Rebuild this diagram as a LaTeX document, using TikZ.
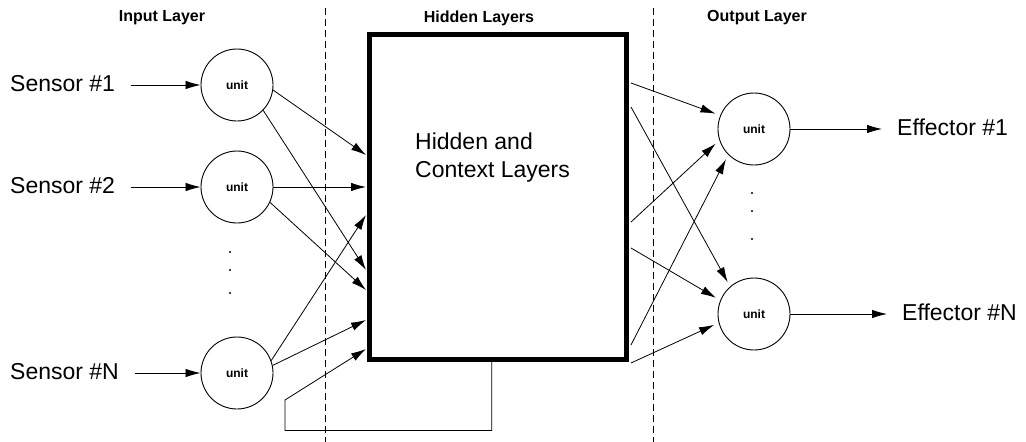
\documentclass[tikz,border=0pt]{standalone}
\usepackage{fontspec}
\setmainfont{Liberation Sans}
\usetikzlibrary{arrows.meta,calc}

\begin{document}
\begin{tikzpicture}[x=1pt,y=-1pt,
        conn/.style={line width=0.8pt, -{Latex[length=15pt,width=8.5pt]}},
        unit/.style={draw, circle, line width=0.9pt, minimum size=72pt, inner sep=0pt, font=\fontsize{12}{14}\selectfont\bfseries},
        lbl/.style={inner sep=0pt, font=\fontsize{23}{28}\selectfont},
        hdr/.style={inner sep=0pt, font=\fontsize{16}{19}\selectfont\bfseries},
        sep/.style={line width=0.8pt, dash pattern=on 7pt off 4pt}]
        \useasboundingbox (0,0) rectangle (1026,442);

        % Layer separators
        \draw[sep] (325,8) -- (325,442);
        \draw[sep] (653,8) -- (653,442);

        % Headings
        \node[hdr] (hin) at (162,18) {Input Layer};
        \node[hdr] (hhid) at (479,18) {Hidden Layers};
        \node[hdr] (hout) at (757,18) {Output Layer};

        % Hidden block
        \node[draw, line width=5pt, minimum width=256.5pt, minimum height=324.5pt] (hid) at (497.75,196.75) {};
        \node[lbl, align=left, anchor=west] (hidtxt) at (415,158) {Hidden and\\Context Layers};

        % Ends on the block sides
        \foreach \y [count=\i] in {155,187,215,270,290,320,349}
            \coordinate (in\i) at (366,\y);
        \foreach \y [count=\i] in {83,107,222,248,345,363}
            \coordinate (out\i) at (631,\y);

        % Input units
        \node[unit] (u1) at (237,85) {unit};
        \node[unit] (u2) at (237,187) {unit};
        \node[unit] (uN) at (237,373) {unit};
        \node[lbl, anchor=west] (s1) at (10,84) {Sensor \#1};
        \node[lbl, anchor=west] (s2) at (10,186) {Sensor \#2};
        \node[lbl, anchor=west] (sN) at (10,372) {Sensor \#N};
        \foreach \s/\u in {s1/u1, s2/u2, sN/uN}
            \draw[conn, shorten <=16pt] (\s.east |- \u.west) -- (\u.west);
        \foreach \y in {252,270,293}
            \fill (230,\y) circle (1.1pt);

        % Into the block
        \draw[conn] (u1.-8) -- (in1);
        \draw[conn] (u1.-44) -- (in4);
        \draw[conn] (u2.east) -- (in2);
        \draw[conn] (u2.-25) -- (in5);
        \draw[conn] (uN.20) -- (in3);
        \draw[conn] (uN.12) -- (in6);

        % Context feedback
        \draw[conn] ([xshift=-6pt]hid.south) -- ++(0,69) -| (285,400) -- (in7);

        % Output units
        \node[unit] (o1) at (754,129) {unit};
        \node[unit] (oN) at (754,314) {unit};
        \node[lbl, anchor=west] (e1) at (897,127) {Effector \#1};
        \node[lbl, anchor=west] (eN) at (902,312) {Effector \#N};
        \draw[conn, shorten >=15pt] (o1.east) -- (e1.west |- o1.east);
        \draw[conn, shorten >=15pt] (oN.east) -- (eN.west |- oN.east);
        \foreach \y in {193,211,239}
            \fill (752,\y) circle (1.1pt);

        % Out of the block
        \foreach \a/\b in {out1/o1.158, out3/o1.198, out5/o1.225, out2/oN.131, out4/oN.158, out6/oN.194}
            \draw[conn, shorten >=5pt] (\a) -- (\b);
    \end{tikzpicture}
\end{document}
